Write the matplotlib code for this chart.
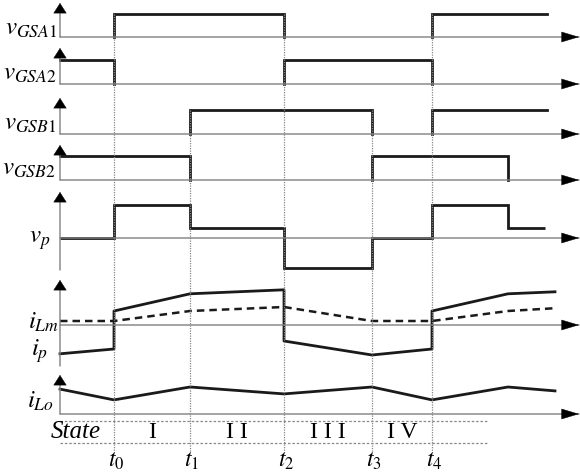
import numpy as np
import matplotlib.pyplot as plt

plt.rcParams['mathtext.fontset'] = 'stix'
plt.rcParams['font.family'] = ['Liberation Serif', 'DejaVu Serif']

# switching instants t0..t4 (time units)
t_sw = [54, 130, 224, 312, 372]
t_names = ["$t_0$", "$t_1$", "$t_2$", "$t_3$", "$t_4$"]
states = ["I", "I I", "I I I", "I V"]

# gate signals: interval edges and on/off level in each interval
gsa1_edges = [0, 54, 224, 372, 487]
gsa1_levels = [0, 1, 0, 1]
gsa2_edges = [0, 54, 224, 372, 487]
gsa2_levels = [1, 0, 1, 0]
gsb1_edges = [0, 130, 312, 372, 487]
gsb1_levels = [0, 1, 0, 1]
gsb2_edges = [0, 130, 312, 448, 487]
gsb2_levels = [1, 0, 1, 0]

# primary voltage vp
vp_edges = [0, 54, 130, 224, 312, 372, 448, 485]
vp_levels = [0, 1, 0.3, -0.9, 0, 1, 0.3]

# primary current ip and magnetising current iLm
ip_t = [0, 54, 54, 130, 224, 224, 312, 372, 372, 448, 495]
ip_v = [-0.72, -0.6, 0.35, 0.78, 0.88, -0.4, -0.75, -0.6, 0.35, 0.78, 0.83]
ilm_t = [0, 54, 130, 224, 312, 372, 448, 495]
ilm_v = [0.1, 0.1, 0.35, 0.45, 0.1, 0.1, 0.35, 0.42]

# output inductor current iLo
ilo_t = [0, 54, 130, 224, 312, 372, 448, 495]
ilo_v = [0.83, 0.47, 0.9, 0.67, 0.9, 0.47, 0.9, 0.77]

W, H = 580, 474
fig = plt.figure(figsize=(W / 100, H / 100), dpi=100)
XLIM = (-60, 520)
AX_COLOR = '#808080'
SIG_COLOR = '#1a1a1a'


def arrow(ax, tip, tail, style, color, lw):
    ax.annotate('', xy=tip, xytext=tail,
                arrowprops=dict(arrowstyle=style, color=color, lw=lw,
                                mutation_scale=10, shrinkA=0, shrinkB=0))


def row_axes(top, bottom, base, unit, below=0):
    # top/bottom/base in pixels, unit = pixels per data unit
    ax = fig.add_axes([0, 1 - bottom / H, 1, (bottom - top) / H])
    ax.set_xlim(*XLIM)
    ax.set_ylim((base - bottom) / unit, (base - top) / unit)
    ax.axis('off')
    y1 = ax.get_ylim()[1]
    hstyle = '-|>,head_length=1.2,head_width=0.36'
    vstyle = '-|>,head_length=0.7,head_width=0.45'
    # time axis
    arrow(ax, (519, 0), (0, 0), '-', AX_COLOR, 1.0)
    arrow(ax, (519, 0), (517, 0), hstyle, 'black', 0.3)
    # value axis
    arrow(ax, (0, y1 - 0.1), (0, -below / unit), '-', AX_COLOR, 1.0)
    arrow(ax, (0, y1), (0, y1 - 0.05), vstyle, 'black', 0.3)
    return ax


def draw_gate(ax, edges, levels):
    last = len(levels) - 1
    for i, lv in enumerate(levels):
        if lv == 0:
            continue
        s, e = edges[i], edges[i + 1]
        xs, ys = [s, e], [1, 1]
        if i > 0:
            xs, ys = [s] + xs, [0] + ys
        if i < last:
            xs, ys = xs + [e], ys + [0]
        ax.plot(xs, ys, color=SIG_COLOR, lw=2, solid_joinstyle='miter')


def label(x, y, s, size=18):
    fig.text(x / W, 1 - y / H, s, ha='right', va='center', fontsize=size)


ax1 = row_axes(3, 42, 37, 23)
draw_gate(ax1, gsa1_edges, gsa1_levels)
ax2 = row_axes(48, 90, 84, 24)
draw_gate(ax2, gsa2_edges, gsa2_levels)
ax3 = row_axes(98, 140, 134, 24)
draw_gate(ax3, gsb1_edges, gsb1_levels)
ax4 = row_axes(145, 186, 180, 24)
draw_gate(ax4, gsb2_edges, gsb2_levels)

ax5 = row_axes(192, 272, 238, 33, below=32)
ax5.stairs(vp_levels, vp_edges, baseline=None, color=SIG_COLOR, lw=2)

ax6 = row_axes(280, 370, 325, 40, below=41)
ax6.plot(ip_t, ip_v, color=SIG_COLOR, lw=2)
ax6.plot(ilm_t, ilm_v, color=SIG_COLOR, lw=1.8, ls=(0, (3, 2)))

ax7 = row_axes(375, 418, 414, 30)
ax7.plot(ilo_t, ilo_v, color=SIG_COLOR, lw=2)

label(57, 29, r'$v_{GSA\mathrm{1}}$')
label(57, 74, r'$v_{GSA\mathrm{2}}$')
label(56, 124, r'$v_{GSB\mathrm{1}}$')
label(56, 169, r'$v_{GSB\mathrm{2}}$')
label(50, 241, r'$v_{p}$')
label(59, 322, r'$i_{Lm}$')
label(48, 351, r'$i_{p}$')
label(54, 401, r'$i_{Lo}$')

# overlay for time markers and the state row (pixel layout vertically)
deco = fig.add_axes([0, 0, 1, 1], facecolor='none')
deco.set_xlim(*XLIM)
deco.set_ylim(H, 0)
deco.axis('off')
starts = [14, 110, 14, 110, 14]
for t, y0, name in zip(t_sw, starts, t_names):
    deco.plot([t, t], [y0, 452], color='#888888', lw=0.9, ls=(0, (1, 1)))
    deco.text(t + 2, 461, name, ha='center', va='center', fontsize=17)
for yy in (421, 443):
    deco.plot([0, 427], [yy, yy], color='#888888', lw=0.9, ls=(0, (2, 1.5)))
deco.text(16, 432, 'State', ha='center', va='center', fontsize=18, style='italic')
for i, s in enumerate(states):
    deco.text((t_sw[i] + t_sw[i + 1]) / 2, 432, s, ha='center', va='center', fontsize=17)

fig.savefig('out.png', dpi=100)
